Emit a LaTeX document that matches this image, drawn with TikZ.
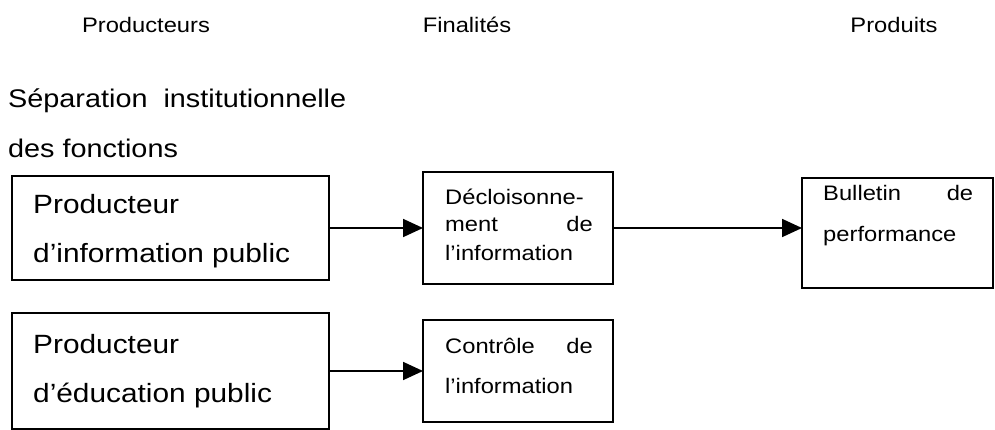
\documentclass[tikz,border=0pt]{standalone}
\usepackage{fontspec}
\setmainfont{Liberation Sans}[FakeStretch=1.13]
\usetikzlibrary{arrows.meta}
\newcommand{\fBig}{\fontsize{26.4}{30}\selectfont}
\newcommand{\fSep}{\fontsize{25.5}{30}\selectfont}
\newcommand{\fHdr}{\fontsize{21}{25}\selectfont}
\newcommand{\fMed}{\fontsize{21}{25}\selectfont}
\begin{document}
\begin{tikzpicture}[x=1pt,y=-1pt,
  boxnode/.style={draw=black,line width=1.5pt,rectangle,inner sep=0pt,outer sep=0pt},
  txt/.style={inner sep=0pt,anchor=base west},
  hdr/.style={inner sep=0pt,anchor=base,font=\fHdr},
  conn/.style={line width=1.8pt,-{Triangle[length=20pt,width=18pt]}}]
\useasboundingbox (0,0) rectangle (995,430);
% headers
\node[hdr] (h1) at (146,33) {Producteurs};
\node[hdr] (h2) at (467,33) {Finalités};
\node[hdr] (h3) at (894,33) {Produits};
\node[txt,font=\fSep] (s1) at (8,108) {Séparation\ \ institutionnelle};
\node[txt,font=\fSep] (s2) at (8,158) {des fonctions};
% boxes
\node[boxnode,minimum width=317pt,minimum height=104pt] (b1) at (170.5,228) {};
\node[boxnode,minimum width=317pt,minimum height=116pt] (b2) at (170.5,371) {};
\node[boxnode,minimum width=190pt,minimum height=112pt] (b3) at (518,228) {};
\node[boxnode,minimum width=190pt,minimum height=102pt] (b4) at (518,371) {};
\node[boxnode,minimum width=191pt,minimum height=110pt] (b5) at (897.5,233) {};
% box texts
\node[txt,font=\fBig] (t1a) at (33,214) {Producteur};
\node[txt,font=\fBig] (t1b) at (33,262) {d’information public};
\node[txt,font=\fBig] (t2a) at (33,353) {Producteur};
\node[txt,font=\fBig] (t2b) at (33,402) {d’éducation public};
\node[txt,font=\fMed] (t3a) at (445,205) {Décloisonne-};
\node[txt,font=\fMed] (t3b) at (445,232) {\makebox[147.7pt][s]{ment\hfill de}};
\node[txt,font=\fMed] (t3c) at (445,260) {l’information};
\node[txt,font=\fMed] (t4a) at (445,353) {\makebox[147.7pt][s]{Contrôle\hfill de}};
\node[txt,font=\fMed] (t4b) at (445,393) {l’information};
\node[txt,font=\fMed] (t5a) at (823,201) {\makebox[150pt][s]{Bulletin\hfill de}};
\node[txt,font=\fMed] (t5b) at (823,242) {performance};
% connectors
\draw[conn] (b1.east) -- (b1.east -| b3.west);
\draw[conn] (b2.east) -- (b2.east -| b4.west);
\draw[conn] (b3.east) -- (b3.east -| b5.west);
\end{tikzpicture}
\end{document}
